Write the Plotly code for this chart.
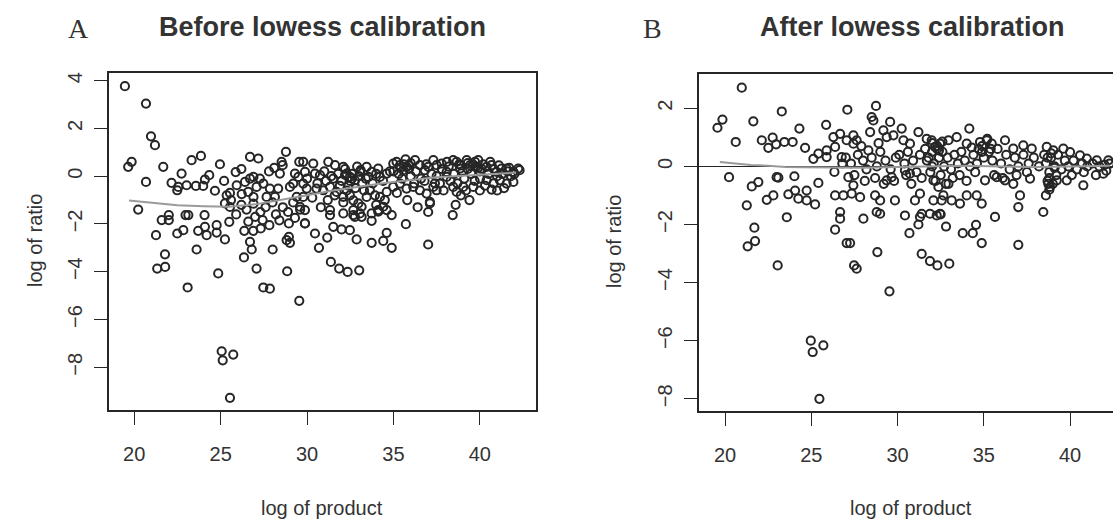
import plotly.graph_objects as go

# ---- panel A: before lowess calibration (log of product vs log of ratio) ----
before_x = [
    19.46, 20.68, 20.97, 21.20, 19.65, 19.85, 21.68, 20.68, 20.23, 21.59, 22.00, 22.00,
    21.26, 21.33, 21.79, 21.78,
    22.16, 22.55, 22.74, 23.03, 22.49, 23.57, 23.99, 24.09, 24.34, 24.67, 25.35, 25.54,
    23.32, 23.86, 24.96, 25.87, 22.97, 23.13, 24.07, 25.25, 25.54, 22.49, 22.84, 23.70,
    24.09, 24.19, 24.77, 24.77, 25.25, 25.50, 23.61, 23.09, 24.86, 25.06, 25.12, 25.73,
    25.54, 25.93, 25.60, 25.90, 25.20,
    26.41, 26.70, 26.90, 27.27, 27.08, 26.60, 26.22, 26.90, 27.47, 27.85, 28.33, 27.66,
    28.14, 29.01, 29.20, 29.78, 29.98, 29.40, 29.78, 26.70, 27.18, 28.78, 28.53, 28.59,
    28.43, 29.55, 29.30, 29.50,
    26.37, 26.89, 27.32, 27.43, 27.82, 28.01, 26.35, 26.70, 26.80, 27.08, 27.47, 27.85,
    28.85, 29.55, 28.95, 28.95, 29.01, 29.88, 28.82,
    26.20, 26.50, 26.90, 27.30, 27.60, 28.00, 28.20, 28.60, 28.90, 29.20, 29.60, 27.00,
    28.40, 29.30, 26.60, 27.80, 28.10, 26.20,
    29.78, 30.36, 29.88, 30.46, 30.75, 31.23, 31.62, 31.52, 32.10, 32.29, 32.48, 32.77,
    33.06, 33.45, 33.54, 33.74, 34.12, 34.22, 34.61, 34.99, 35.18, 35.38, 35.57, 35.76,
    36.25, 36.53, 36.82, 37.02, 37.31, 37.50, 37.79, 38.08, 38.46, 38.66, 38.85, 39.24,
    39.43, 39.72, 39.91, 40.10, 40.39, 40.68, 40.97, 41.26, 41.55, 41.94, 42.22,
    30.55, 30.94, 31.33, 31.71, 32.10, 32.48, 32.68, 32.97, 33.16, 33.45, 33.64, 33.93,
    34.22, 34.61, 34.99, 35.38, 35.76, 36.15, 36.53, 36.92, 37.31, 37.69, 38.08, 38.46,
    38.66, 39.04, 39.62, 40.01, 40.39, 41.16, 41.55, 41.94, 32.68, 33.06, 33.74, 34.12,
    34.41, 37.11, 37.50, 29.59, 29.88, 31.33, 31.33, 32.77,
    38.43, 37.01, 37.11, 37.01, 35.72, 34.61, 34.41, 34.90, 33.74, 32.87, 31.38, 31.86,
    32.35, 33.02, 30.69, 30.46, 31.17, 31.52, 32.00, 32.48, 29.88,
    33.74, 34.12, 34.61, 34.90, 33.16, 32.68, 32.10,
    31.00, 31.40, 31.80, 32.00, 32.20, 32.40, 32.60, 32.80, 33.00, 33.20, 32.30, 32.50,
    32.90, 31.90, 31.60, 33.40, 33.80, 34.00, 34.40, 34.80, 32.10, 31.20, 30.80, 30.30,
    30.00, 30.60, 31.10, 33.30, 34.50, 34.00,
    35.00, 35.30, 35.60, 35.90, 36.00, 36.30, 36.60, 36.90, 37.20, 37.50, 37.80, 35.50,
    36.20, 36.80, 37.40, 35.20, 35.80, 36.40, 37.90, 36.00, 35.70,
    38.20, 38.50, 38.80, 39.00, 39.10, 39.30, 39.50, 39.70, 39.80, 40.00, 40.20, 40.50,
    40.80, 41.00, 41.30, 41.60, 41.80, 42.00, 38.70, 38.90, 39.20, 39.40, 38.60, 40.30,
    40.80, 41.40, 42.30, 38.30, 38.10, 39.60, 40.60, 40.68, 40.00, 41.00,
    32.20, 32.60, 33.10, 35.40, 35.90, 38.90, 39.30, 39.90, 41.10, 41.70,
]
before_y = [
    3.77, 3.04, 1.67, 1.30, 0.39, 0.60, 0.39, -0.24, -1.40, -1.84, -1.63, -1.84,
    -2.47, -3.87, -3.80, -3.27,
    -0.28, -0.45, 0.11, -0.38, -0.59, -0.41, -0.41, -0.14, 0.04, -0.61, -0.80, -0.70,
    0.67, 0.85, 0.50, 0.17, -1.63, -1.63, -1.63, -1.14, -1.29, -2.40, -2.26, -2.29,
    -2.12, -2.47, -2.05, -2.36, -2.65, -1.91, -3.07, -4.66, -4.07, -7.33, -7.71, -7.47,
    -9.28, -0.38, -1.00, -1.60, -0.20,
    -0.24, -0.10, -0.03, -0.10, -0.45, -0.66, -0.75, -0.87, -0.31, -0.52, -0.52, -0.87,
    -0.87, -0.45, -0.31, -0.31, -0.52, -0.87, -0.87, 0.81, 0.74, 1.02, 0.60, 0.46,
    0.11, 0.60, 0.11, -0.03,
    -2.29, -2.29, -2.19, -1.84, -2.05, -3.07, -3.40, -2.75, -3.07, -3.87, -4.66, -4.71,
    -3.98, -5.22, -1.98, -2.54, -2.79, -1.98, -2.68,
    -1.20, -1.40, -1.15, -1.50, -1.30, -1.10, -1.60, -1.30, -1.50, -1.10, -1.40, -1.70,
    -1.85, -1.75, -1.90, 0.20, 0.35, 0.30,
    0.60, 0.53, 0.18, 0.11, 0.04, 0.60, 0.46, -0.10, 0.39, 0.11, -0.03, -0.17,
    0.18, 0.39, -0.03, 0.18, 0.32, -0.03, 0.11, 0.53, 0.60, 0.46, 0.25, 0.39,
    0.67, 0.46, 0.25, 0.39, 0.67, 0.46, 0.53, 0.18, 0.67, 0.60, 0.32, 0.67,
    0.46, 0.60, 0.67, 0.32, 0.39, 0.46, 0.18, 0.32, 0.32, 0.18, 0.32,
    -0.52, -0.59, -0.45, -0.66, -0.87, -0.80, -1.01, -1.14, -1.28, -0.87, -0.59, -0.80,
    -0.87, -0.66, -0.45, -0.31, -0.52, -0.45, -0.59, -0.73, -0.45, -0.31, -0.03, -0.45,
    -0.66, -0.45, -0.45, -0.10, -0.17, -0.17, -0.31, -0.24, -1.42, -1.56, -1.56, -1.42,
    -1.28, -1.08, -0.59, -1.28, -1.42, -1.42, -1.63, -1.70,
    -1.63, -1.50, -1.14, -2.86, -2.01, -2.37, -2.71, -3.00, -2.79, -2.65, -3.59, -3.87,
    -4.01, -3.94, -3.00, -2.40, -2.57, -2.12, -2.23, -2.26, -1.98,
    -1.87, -1.49, -1.42, -1.63, -1.70, -1.63, -1.56,
    0.20, 0.00, 0.10, -0.20, 0.30, -0.40, 0.10, -0.50, 0.00, -0.30, -0.60, -0.20,
    0.40, -0.40, -0.80, -0.10, -0.30, 0.10, -0.20, 0.20, -1.10, -1.00, -1.30, -0.90,
    -0.10, -0.30, -0.20, -0.60, -1.00, -1.20,
    0.20, 0.10, 0.50, 0.30, 0.00, 0.20, -0.10, 0.50, 0.10, 0.00, 0.30, -0.10,
    -0.30, -0.20, -0.30, -0.70, -1.00, -1.30, -0.60, 0.55, 0.70,
    0.40, 0.10, 0.50, 0.20, -0.10, 0.30, 0.10, -0.20, 0.40, 0.20, 0.50, 0.10,
    0.30, 0.00, 0.10, 0.20, 0.00, 0.10, -0.30, -0.80, -0.60, -1.00, -1.20, -0.40,
    -0.30, -0.50, 0.25, -0.20, 0.60, 0.50, 0.60, -0.56, -0.60, -0.60,
    0.05, -0.10, 0.25, 0.35, 0.45, 0.45, 0.55, 0.35, 0.45, 0.35,
]

# lowess fit drawn through panel A
lowess_before_x = [19.7, 21.0, 22.5, 24.0, 25.5, 27.0, 28.5, 30.0, 31.5, 33.0,
                   34.5, 36.0, 37.5, 39.0, 40.5, 42.1]
lowess_before_y = [-1.02, -1.12, -1.22, -1.26, -1.28, -1.18, -1.00, -0.80, -0.60, -0.43,
                   -0.29, -0.16, -0.05, 0.02, 0.08, 0.15]

# ---- panel B: after lowess calibration ----
after_x = [
    20.97, 19.56, 19.85, 21.64, 20.62, 20.23, 21.55, 21.93, 21.26, 21.70, 21.31, 21.74,
    23.29, 24.31, 25.86, 22.13, 22.51, 22.76, 22.96, 23.44, 23.92, 24.64, 25.12, 25.41,
    25.89, 25.89, 22.99, 23.09, 24.02, 25.41, 22.42, 22.80, 23.67, 24.06, 24.25, 24.73,
    25.22, 23.58, 23.05, 24.97, 25.08, 25.70, 25.47, 24.73,
    27.09, 26.28, 26.67, 27.05, 27.44, 26.38, 26.76, 26.34, 26.38, 26.86, 27.44, 27.15,
    26.67, 26.67, 26.38, 27.05, 27.48, 27.63, 28.75, 28.50, 28.60, 29.57, 28.41, 27.44,
    27.63, 28.31, 29.18, 29.37, 29.76,
    27.00, 27.30, 27.70, 28.00, 28.20, 28.50, 28.80, 29.00, 29.30, 29.60, 29.90, 27.50,
    28.10, 28.70, 29.20, 29.80, 27.90, 28.90, 26.80,
    27.34, 27.83, 28.70, 28.99, 29.37, 29.66, 29.85, 28.79, 28.99, 28.02,
    27.25, 28.83, 29.53,
    30.24, 30.34, 30.72, 31.21, 31.69, 31.98, 32.17, 32.46, 32.95, 33.43, 34.01, 34.16,
    34.78,
    30.10, 30.40, 30.60, 30.90, 31.10, 31.30, 31.60, 31.80, 32.00, 32.10, 32.30, 32.40,
    32.60, 32.70, 32.90, 33.10, 33.30, 33.50, 33.70, 33.90, 34.20, 34.40, 34.60, 34.90,
    31.40, 31.90, 32.20, 32.50, 32.80, 33.20, 33.60, 34.00, 34.50, 30.50, 30.80, 31.70,
    32.00, 32.40, 34.70, 34.30,
    30.43, 30.72, 31.30, 32.08, 32.37, 32.66, 32.95, 33.14, 33.62, 34.01, 34.59, 34.88,
    35.07, 30.43, 31.40, 31.88, 32.46,
    31.01, 32.08, 32.56, 31.30, 32.27, 32.50, 31.21, 32.81, 30.69, 33.78, 34.36, 34.55,
    34.88, 31.40, 31.88, 32.31, 33.00,
    35.17, 35.46, 36.23, 36.71, 37.29, 37.78, 38.65, 39.03, 39.61, 40.00, 40.58, 40.97,
    41.55, 42.22,
    35.00, 35.30, 35.50, 35.80, 36.00, 36.30, 36.50, 36.80, 37.00, 37.30, 37.60, 37.90,
    38.20, 38.50, 38.60, 38.80, 38.90, 39.10, 39.30, 39.50, 39.70, 39.90, 40.20, 40.40,
    40.70, 41.00, 41.30, 41.70, 42.00, 42.30, 35.60, 36.10, 36.90, 37.50, 38.70, 38.80,
    39.00, 38.60, 39.20, 40.10, 40.80, 41.50, 42.10,
    35.75, 36.23, 36.71, 37.10, 37.00, 37.68, 38.45, 38.74, 38.84, 39.23, 39.81, 40.77,
    41.93, 35.65, 37.00,
    32.00, 32.30, 32.60, 34.90, 35.20, 35.40, 38.70, 38.90, 39.10, 38.80,
]
after_y = [
    2.71, 1.33, 1.61, 1.55, 0.84, -0.37, -0.69, -0.54, -1.34, -2.11, -2.75, -2.57,
    1.89, 1.30, 1.43, 0.90, 0.64, 0.99, 0.76, 0.84, 0.84, 0.64, 0.26, 0.44,
    0.55, 0.32, -0.37, -0.39, -0.34, -0.57, -1.15, -1.00, -0.96, -0.83, -1.11, -0.83,
    -1.31, -1.75, -3.41, -6.00, -6.39, -6.16, -8.00, -1.17,
    1.95, 1.01, 1.12, 0.90, 0.78, 0.67, 0.32, -0.19, -1.00, -1.00, -0.65, -0.37,
    -1.57, -1.80, -2.18, -2.64, -3.41, -3.52, 2.08, 1.70, 1.58, 1.53, 1.18, 1.07,
    0.90, 0.55, 1.24, 1.01, 1.07,
    0.30, 0.10, 0.40, 0.20, -0.10, 0.30, 0.00, 0.50, 0.20, -0.10, 0.30, -0.30,
    -0.50, -0.40, -0.60, -0.50, 0.70, 0.80, 0.10,
    -0.94, -1.06, -1.00, -1.17, -0.48, -0.37, -1.17, -1.57, -1.63, -1.80,
    -2.64, -2.95, -4.30,
    1.30, 0.90, 0.78, 1.18, 0.95, 0.90, 0.67, 0.78, 0.90, 1.01, 0.78, 1.30,
    0.84,
    0.40, 0.10, 0.50, 0.20, -0.20, 0.40, 0.60, 0.30, 0.50, 0.10, 0.70, 0.30,
    0.50, 0.00, 0.30, -0.10, 0.40, 0.10, 0.50, 0.20, 0.00, 0.40, 0.10, 0.50,
    -0.40, -0.20, -0.50, -0.30, -0.60, -0.40, -0.30, -0.50, -0.20, -0.30, -0.60, 0.20,
    0.00, 0.55, 0.60, 0.65,
    -0.14, -0.25, -0.94, -0.48, -0.71, -1.00, -0.60, -1.17, -1.28, -1.00, -1.00, -1.28,
    -0.48, -1.69, -1.63, -1.63, -1.63,
    -1.17, -1.17, -1.17, -1.74, -1.69, -1.65, -2.00, -2.07, -2.30, -2.30, -2.30, -2.01,
    -2.64, -3.01, -3.26, -3.41, -3.35,
    0.90, 0.78, 0.90, 0.61, 0.72, 0.61, 0.67, 0.55, 0.61, 0.49, 0.38, 0.27,
    0.21, 0.21,
    0.30, 0.50, 0.20, 0.60, 0.10, 0.40, -0.10, 0.30, 0.00, 0.40, 0.10, 0.30,
    0.00, 0.40, 0.10, -0.20, 0.30, 0.00, 0.40, -0.10, 0.20, 0.00, 0.20, -0.10,
    0.10, 0.00, 0.10, 0.00, 0.05, 0.10, -0.30, -0.40, -0.30, -0.20, -0.50, -0.80,
    -0.60, -1.00, -0.30, -0.30, -0.20, -0.30, -0.15,
    -0.37, -0.48, -0.60, -1.00, -1.40, -0.42, -1.57, -0.60, -0.71, -0.48, -0.48, -0.65,
    -0.25, -1.74, -2.70,
    0.80, 0.60, 0.85, 0.70, 0.95, 0.60, 0.30, 0.45, -0.05, -0.40,
]

# lowess fit drawn through panel B
lowess_after_x = [19.7, 20.5, 21.5, 22.5, 23.5, 24.5, 25.5, 26.5, 28.0, 30.0,
                  32.0, 34.0, 36.0, 38.0, 40.0, 42.3]
lowess_after_y = [0.15, 0.10, 0.05, 0.02, -0.02, -0.03, -0.04, -0.06, -0.05, -0.02,
                  0.00, 0.02, 0.00, -0.02, 0.00, 0.02]

x_ticks = [20, 25, 30, 35, 40]
y_ticks_before = [4, 2, 0, -2, -4, -6, -8]
y_ticks_after = [2, 0, -2, -4, -6, -8]

INK = "#262626"
LINE = "#9a9a9a"
SANS = "Liberation Sans, Arial, sans-serif"
SERIF = "Liberation Serif, Times New Roman, serif"

fig = go.Figure()

marker = dict(symbol="circle-open", size=8.2, color=INK, line=dict(width=2.0, color=INK))

fig.add_trace(go.Scatter(x=before_x, y=before_y, mode="markers", marker=marker,
                         xaxis="x", yaxis="y", showlegend=False, hoverinfo="skip"))
fig.add_trace(go.Scatter(x=lowess_before_x, y=lowess_before_y, mode="lines",
                         line=dict(color=LINE, width=2), xaxis="x", yaxis="y",
                         showlegend=False, hoverinfo="skip"))
fig.add_trace(go.Scatter(x=after_x, y=after_y, mode="markers", marker=marker,
                         xaxis="x2", yaxis="y2", showlegend=False, hoverinfo="skip"))
fig.add_trace(go.Scatter(x=lowess_after_x, y=lowess_after_y, mode="lines",
                         line=dict(color=LINE, width=2), xaxis="x2", yaxis="y2",
                         showlegend=False, hoverinfo="skip"))

W, H = 1113, 520


def px_x(p):
    return p / W


def px_y(p):
    return 1 - p / H


axis_common = dict(
    showgrid=False, zeroline=False, showline=True, linecolor=INK, linewidth=1.5,
    ticks="outside", ticklen=13, tickwidth=1.4, tickcolor=INK,
    tickfont=dict(family=SANS, size=20, color="#333"),
)

fig.update_layout(
    width=W, height=H,
    margin=dict(l=0, r=0, t=0, b=0),
    paper_bgcolor="white", plot_bgcolor="white",
    xaxis=dict(domain=[px_x(109), px_x(536)], range=[18.54, 43.25], anchor="y",
               tickvals=x_ticks, mirror=True, ticklabelstandoff=12, **axis_common),
    yaxis=dict(domain=[px_y(410), px_y(73)], range=[-9.79, 4.32], anchor="x",
               tickvals=y_ticks_before, tickangle=-90, mirror=True,
               ticklabelstandoff=4, **axis_common),
    xaxis2=dict(domain=[px_x(699), 1.0], range=[18.49, 18.49 + 414 / 17.25], anchor="y2",
                tickvals=x_ticks, mirror=True, ticklabelstandoff=12, **axis_common),
    yaxis2=dict(domain=[px_y(411), px_y(74)], range=[-8.42, 3.18], anchor="x2",
                tickvals=y_ticks_after, tickangle=-90, ticklabelstandoff=4,
                **{**axis_common, "zeroline": True}, zerolinecolor=INK, zerolinewidth=1.4),
)

annotations = [
    dict(text="A", x=px_x(78), y=px_y(28), font=dict(family=SERIF, size=28, color="#333")),
    dict(text="<b>Before lowess calibration</b>", x=px_x(322), y=px_y(27),
         font=dict(family=SANS, size=27, color="#333")),
    dict(text="B", x=px_x(652), y=px_y(28), font=dict(family=SERIF, size=28, color="#333")),
    dict(text="<b>After lowess calibration</b>", x=px_x(912), y=px_y(27),
         font=dict(family=SANS, size=27, color="#333")),
    dict(text="log of product", x=px_x(322), y=px_y(508),
         font=dict(family=SANS, size=20, color="#333")),
    dict(text="log of product", x=px_x(911), y=px_y(508),
         font=dict(family=SANS, size=20, color="#333")),
    dict(text="log of ratio", x=px_x(35), y=px_y(241), textangle=-90,
         font=dict(family=SANS, size=20, color="#333")),
    dict(text="log of ratio", x=px_x(614), y=px_y(242), textangle=-90,
         font=dict(family=SANS, size=20, color="#333")),
]
for a in annotations:
    a.update(xref="paper", yref="paper", showarrow=False, xanchor="center", yanchor="middle")
fig.update_layout(annotations=annotations)

fig.write_html("out.html", config={"displayModeBar": False})
